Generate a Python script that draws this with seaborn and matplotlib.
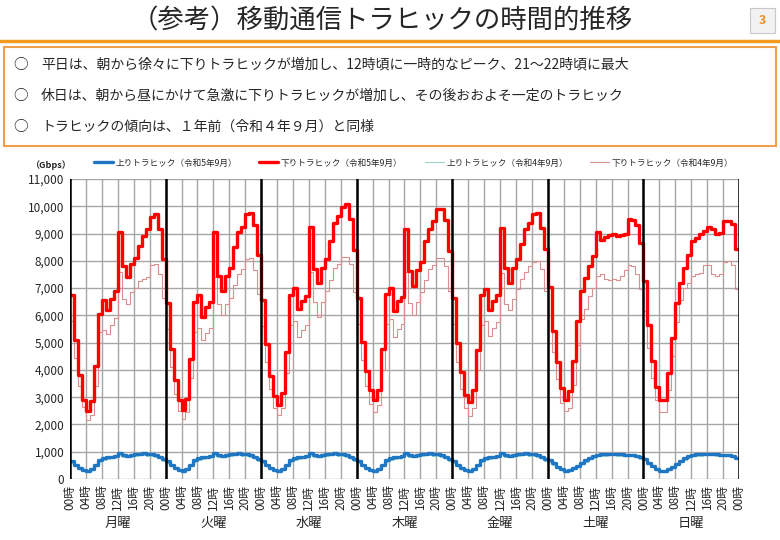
import seaborn as sns
import pandas as pd
import matplotlib.pyplot as plt
from matplotlib.patches import Rectangle
from matplotlib.lines import Line2D

days = ['月曜', '火曜', '水曜', '木曜', '金曜', '土曜', '日曜']

# 下りトラヒック（令和5年9月）, hourly Gbps
down_2023_mon = [6750, 5100, 3800, 2900, 2480, 2850, 4130, 6050, 6550, 6200, 6600, 6900,
                 9050, 7800, 7400, 7900, 8100, 8550, 8900, 9150, 9600, 9700, 9150, 8050]
down_2023_tue = [6450, 4780, 3620, 2900, 2540, 2930, 4400, 6500, 6750, 5950, 6300, 6500,
                 9050, 7450, 6900, 7450, 7750, 8500, 9050, 9250, 9700, 9750, 9300, 8200]
down_2023_wed = [6550, 4960, 3790, 3030, 2720, 3170, 4650, 6750, 7000, 6240, 6530, 6700,
                 9250, 7700, 7170, 7740, 8050, 8720, 9400, 9640, 9990, 10070, 9520, 8390]
down_2023_thu = [6620, 5010, 3950, 3280, 2880, 3280, 4750, 6800, 7000, 6150, 6520, 6670,
                 9180, 7620, 7070, 7680, 7950, 8720, 9180, 9460, 9910, 9910, 9500, 8360]
down_2023_fri = [6640, 4990, 3910, 3090, 2810, 3250, 4740, 6760, 6950, 6190, 6520, 6730,
                 9220, 7730, 7190, 7730, 8050, 8600, 9180, 9380, 9700, 9740, 9220, 8420]
down_2023_sat = [7050, 5420, 4280, 3330, 2900, 3210, 4310, 5810, 6890, 7380, 7810, 8170,
                 9060, 8760, 8880, 8930, 8970, 8910, 8960, 9000, 9550, 9500, 9300, 8650]
down_2023_sun = [7250, 5660, 4310, 3390, 2900, 2900, 3870, 5170, 6460, 7190, 7750, 8200,
                 8730, 8850, 8970, 9090, 9250, 9150, 8970, 9030, 9460, 9460, 9340, 8420]

# 下りトラヒック（令和4年9月）
down_2022_mon = [5780, 4440, 3420, 2630, 2170, 2350, 3420, 5400, 5450, 5300, 5650, 5900,
                 7600, 6600, 6400, 6850, 7000, 7250, 7350, 7400, 7850, 7900, 7500, 6650]
down_2022_tue = [5500, 4100, 3100, 2500, 2200, 2450, 3700, 5400, 5550, 5100, 5350, 5550,
                 7400, 6400, 6000, 6400, 6650, 7100, 7500, 7700, 8050, 8100, 7650, 6800]
down_2022_wed = [5600, 4300, 3300, 2600, 2350, 2600, 3900, 5650, 5800, 5200, 5450, 5650,
                 7600, 6500, 5950, 6500, 6900, 7300, 7750, 7900, 8150, 8150, 7900, 6850]
down_2022_thu = [5700, 4350, 3400, 2750, 2450, 2700, 4000, 5700, 5850, 5200, 5500, 5700,
                 7600, 6450, 6000, 6500, 6850, 7300, 7700, 7850, 8100, 8100, 7800, 6900]
down_2022_fri = [5700, 4300, 3300, 2600, 2300, 2600, 4000, 5650, 5800, 5250, 5550, 5750,
                 7550, 6400, 6200, 6600, 6950, 7350, 7600, 7800, 7950, 8000, 7700, 6900]
down_2022_sat = [6000, 4650, 3650, 2800, 2500, 2600, 3450, 4900, 5850, 6250, 6700, 7000,
                 7450, 7500, 7350, 7300, 7350, 7300, 7450, 7650, 7850, 7800, 7500, 6950]
down_2022_sun = [6150, 4800, 3700, 2900, 2450, 2450, 3250, 4500, 5750, 6550, 7000, 7200,
                 7450, 7500, 7550, 7850, 7850, 7500, 7450, 7500, 7950, 8000, 7850, 6950]

# 上りトラヒック（令和5年9月）
up_2023_weekday = [650, 530, 420, 330, 290, 360, 520, 700, 760, 790, 820, 850,
                   970, 880, 850, 880, 910, 930, 940, 920, 900, 880, 820, 720]
up_2023_sat = [690, 570, 450, 360, 310, 320, 390, 490, 590, 690, 770, 830,
               880, 900, 910, 920, 920, 910, 900, 890, 890, 880, 850, 790]
up_2023_sun = [730, 600, 470, 370, 310, 300, 360, 450, 560, 670, 760, 830,
               880, 900, 910, 930, 930, 920, 900, 890, 890, 880, 850, 770]

# 上りトラヒック（令和4年9月）
up_2022_weekday = [600, 480, 380, 300, 260, 320, 470, 640, 700, 730, 760, 790,
                   900, 820, 790, 820, 850, 870, 880, 860, 840, 820, 760, 670]
up_2022_sat = [640, 520, 410, 330, 280, 290, 350, 450, 540, 640, 720, 780,
               830, 850, 860, 870, 870, 860, 850, 840, 840, 830, 800, 740]
up_2022_sun = [680, 550, 430, 340, 280, 270, 330, 410, 520, 620, 710, 780,
               830, 850, 860, 880, 880, 870, 850, 840, 840, 830, 800, 720]

down_2023 = (down_2023_mon + down_2023_tue + down_2023_wed + down_2023_thu
             + down_2023_fri + down_2023_sat + down_2023_sun)
down_2022 = (down_2022_mon + down_2022_tue + down_2022_wed + down_2022_thu
             + down_2022_fri + down_2022_sat + down_2022_sun)
up_2023 = up_2023_weekday * 5 + up_2023_sat + up_2023_sun
up_2022 = up_2022_weekday * 5 + up_2022_sat + up_2022_sun

series = [
    ('上りトラヒック（令和5年9月）', up_2023, '#1f77c4', 2.4),
    ('下りトラヒック（令和5年9月）', down_2023, '#ff0000', 2.4),
    ('上りトラヒック（令和4年9月）', up_2022, '#9fd3cc', 0.8),
    ('下りトラヒック（令和4年9月）', down_2022, '#d99090', 0.8),
]

sns.set_theme(style='white')
plt.rcParams['font.family'] = ['Noto Sans CJK JP', 'DejaVu Sans']

fig = plt.figure(figsize=(7.8, 5.4), dpi=100)
ax = fig.add_axes([70 / 780, 1 - 479 / 540, 669 / 780, 300 / 540])

hours = list(range(169))
draw_order = [2, 3, 0, 1]
for i in draw_order:
    name, vals, color, lw = series[i]
    df = pd.DataFrame({'hour': hours, 'Gbps': vals + [vals[-1]]})
    sns.lineplot(x='hour', y='Gbps', data=df, ax=ax, color=color, linewidth=lw,
                 drawstyle='steps-post', errorbar=None, zorder=3 + (lw > 1))

ax.set_xlim(0, 168)
ax.set_ylim(0, 11000)
ax.set_yticks(range(0, 11001, 1000))
ax.set_yticklabels([f'{v:,}' for v in range(0, 11001, 1000)], fontsize=8.5)
xt = list(range(0, 169, 4))
ax.set_xticks(xt)
ax.set_xticklabels([f'{t % 24:02d}時' for t in xt], rotation=90, fontsize=8.5)
ax.tick_params(length=0, pad=4)
ax.grid(True, color='#a6a6a6', linewidth=1.0, zorder=1)
ax.set_axisbelow(True)
for s in ax.spines.values():
    s.set_visible(False)
for d in range(8):
    ax.axvline(d * 24, color='black', linewidth=1.8, zorder=5)
ax.set_xlabel('')
ax.set_ylabel('')
for d, name in enumerate(days):
    ax.text(d * 24 + 12, -0.148, name, transform=ax.get_xaxis_transform(),
            ha='center', va='center', fontsize=9.5)

handles = [Line2D([0], [0], color=c, lw=lw) for _, _, c, lw in series]
fig.legend(handles, [s[0] for s in series], loc='center left', ncol=4, frameon=False,
           bbox_to_anchor=(86 / 780, 1 - 163 / 540), fontsize=6.2, handlelength=2.2,
           columnspacing=2.6, handletextpad=0.3)
fig.text(30 / 780, 1 - 165 / 540, '（Gbps）', fontsize=6.5, fontweight='bold',
         ha='left', va='center')

# title and header
fig.text(382 / 780, 1 - 21 / 540, '（参考）移動通信トラヒックの時間的推移', ha='center',
         va='center', fontsize=19)
fig.add_artist(Line2D([0, 1], [1 - 41 / 540, 1 - 41 / 540], color='#f39a21', lw=2.5))
fig.add_artist(Rectangle((750 / 780, 1 - 33 / 540), 25 / 780, 25 / 540, facecolor='#f2f2f2',
                         edgecolor='#c8c8c8', lw=0.8))
fig.text(762.5 / 780, 1 - 20.5 / 540, '3', ha='center', va='center', fontsize=9,
         fontweight='bold', color='#e8902a')

fig.add_artist(Rectangle((4 / 780, 1 - 146 / 540), 772 / 780, 99 / 540, facecolor='none',
                         edgecolor='#f0a04b', lw=1.5))
bullets = [
    '平日は、朝から徐々に下りトラヒックが増加し、12時頃に一時的なピーク、21～22時頃に最大',
    '休日は、朝から昼にかけて急激に下りトラヒックが増加し、その後おおよそ一定のトラヒック',
    'トラヒックの傾向は、１年前（令和４年９月）と同様',
]
for k, txt in enumerate(bullets):
    y = 1 - (65 + 31 * k) / 540
    fig.text(13 / 780, y, '○', ha='left', va='center', fontsize=10.5)
    fig.text(41 / 780, y, txt, ha='left', va='center', fontsize=10)

fig.savefig('out.png', dpi=100)
